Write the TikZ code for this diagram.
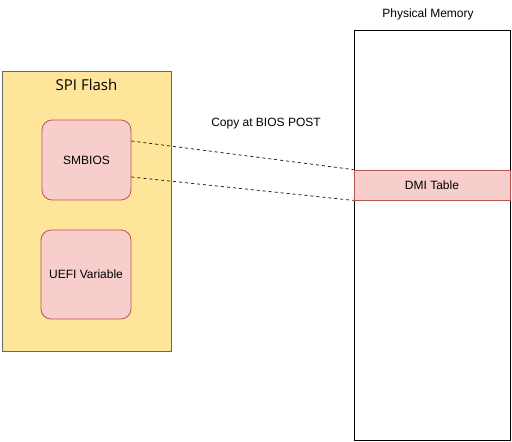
\documentclass[tikz,border=0pt]{standalone}
\usepackage{fontspec}
\setmainfont{Liberation Sans}
\newfontfamily\titlefont{Open Sans}
\definecolor{flashfill}{HTML}{FFE599}
\definecolor{flashdraw}{HTML}{666666}
\definecolor{redfill}{HTML}{F8CECC}
\definecolor{reddraw}{HTML}{B85450}
\begin{document}
\begin{tikzpicture}[x=1pt,y=-1pt,
  lbl/.style={font=\fontsize{12}{14}\selectfont, inner sep=0pt},
  redbox/.style={draw=reddraw, fill=redfill, line width=0.8pt},
  conn/.style={dashed, line width=0.8pt, black!85, dash pattern=on 3pt off 3pt}]
\useasboundingbox (0,0) rectangle (512,442);
% SPI flash
\node[draw=flashdraw, fill=flashfill, line width=0.8pt, minimum width=169pt, minimum height=280pt, inner sep=0pt] (spi) at (86.5,211) {};
\node[font=\titlefont\fontsize{15}{18}\selectfont, inner sep=0pt] (spititle) at (86.5,85) {SPI Flash};
\node[redbox, rounded corners=10pt, minimum width=89pt, minimum height=80pt, inner sep=0pt, lbl] (smbios) at (86.5,160) {SMBIOS};
\node[redbox, rounded corners=10pt, minimum width=90pt, minimum height=89pt, inner sep=0pt, lbl] (uefi) at (86,274.5) {UEFI Variable};
% physical memory
\node[draw=black, line width=0.8pt, minimum width=156pt, minimum height=410pt, inner sep=0pt] (mem) at (432,235) {};
\node[lbl] (memtitle) at (428,14) {Physical Memory};
\node[redbox, minimum width=156pt, minimum height=30pt, inner sep=0pt, lbl] (dmi) at (432,185) {DMI Table};
% connectors
\coordinate (s1) at ([yshift=19pt]smbios.east);
\coordinate (s2) at ([yshift=-17pt]smbios.east);
\draw[conn] (s1) -- (dmi.north west);
\draw[conn] (s2) -- (dmi.south west);
\node[lbl] (copylbl) at (266,124) {Copy at BIOS POST};
\end{tikzpicture}
\end{document}
